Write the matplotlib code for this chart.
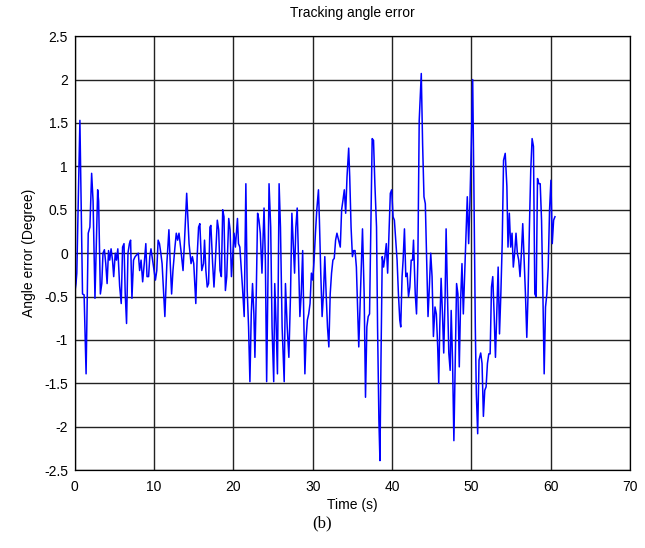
import numpy as np
import matplotlib
matplotlib.use("Agg")
import matplotlib.pyplot as plt
from matplotlib.ticker import FormatStrFormatter

plt.rcParams['font.family'] = ['Liberation Sans', 'DejaVu Sans']
plt.rcParams['axes.unicode_minus'] = False

# tracking angle error
time = [0.0, 0.15, 0.25, 0.64, 0.97, 1.17, 1.42, 1.69, 1.9, 2.12, 2.3, 2.54, 2.88, 3.0,
        3.22, 3.4, 3.55, 3.73, 3.9, 4.07, 4.25, 4.4, 4.57, 4.75, 4.9, 5.1, 5.25, 5.42,
        5.65, 5.85, 6.02, 6.2, 6.35, 6.52, 6.7, 6.88, 7.03, 7.2, 7.4, 7.6, 7.8, 8.0,
        8.17, 8.35, 8.55, 8.75, 8.95, 9.1, 9.3, 9.45, 9.6,
        10.16, 10.33, 10.5, 10.67, 10.84, 11.0, 11.35, 11.6, 11.86, 12.03, 12.2, 12.37,
        12.62, 12.79, 12.96, 13.13, 13.38, 13.64, 13.81, 14.1, 14.4, 14.65, 14.82, 14.99,
        15.25, 15.42, 15.6, 15.76, 16.0, 16.22, 16.35, 16.52, 16.69, 16.86, 17.03, 17.15,
        17.37, 17.54, 17.7, 17.96, 18.13, 18.3, 18.47, 18.64, 18.8, 18.98, 19.15, 19.4,
        19.57, 19.74, 19.9, 20.07, 20.24, 20.5,
        20.63, 20.8, 20.96, 21.13, 21.35, 21.56, 21.73, 21.9, 22.07, 22.24, 22.4, 22.57,
        22.7, 22.87, 23.04, 23.21, 23.38, 23.59, 23.85, 24.02, 24.18, 24.35, 24.48, 24.69,
        24.86, 25.07, 25.2, 25.37, 25.54, 25.75, 25.92, 26.13, 26.39, 26.55, 26.77, 26.98,
        27.19, 27.36, 27.53, 27.7, 27.86, 28.03, 28.2, 28.37, 28.54, 28.72, 28.88, 29.0,
        29.14, 29.31, 29.48, 29.65, 29.82, 29.99, 30.16, 30.33, 30.5, 30.71, 30.83, 31.0,
        31.17, 31.34, 31.51, 31.68, 31.85, 32.02, 32.19, 32.36, 32.53, 32.7, 32.87, 33.04,
        33.25, 33.46, 33.63, 33.8, 33.97, 34.14, 34.31, 34.52, 34.65, 34.82, 34.99, 35.15,
        35.32, 35.49, 35.66, 35.79, 36.0, 36.26,
        36.47, 36.64, 36.81, 36.98, 37.15, 37.32, 37.48, 37.65, 37.82, 38.03, 38.16, 38.33,
        38.46, 38.59, 38.75, 38.92, 39.09, 39.26, 39.43, 39.6, 39.77, 39.94, 40.11, 40.28,
        40.45, 40.62, 40.79, 40.96, 41.08, 41.25, 41.38, 41.55, 41.72, 41.89, 42.06, 42.23,
        42.4, 42.57, 42.69, 42.91, 43.07, 43.24, 43.41, 43.67, 43.84, 44.01, 44.18, 44.35,
        44.52, 44.69, 44.86, 45.03, 45.2,
        45.4, 45.57, 45.74, 45.87, 46.0, 46.17, 46.34, 46.5, 46.68, 46.8, 46.97, 47.14,
        47.31, 47.44, 47.61, 47.78, 47.95, 48.12, 48.29, 48.46, 48.63, 48.8, 48.97, 49.13,
        49.3, 49.47, 49.64, 49.81, 49.98, 50.15, 50.32, 50.48, 50.61, 50.78, 50.95, 51.16,
        51.33, 51.5, 51.67, 51.84, 52.01, 52.18, 52.35, 52.52, 52.68, 52.85, 53.02, 53.19,
        53.36, 53.53, 53.7, 53.87, 54.04, 54.25, 54.46,
        54.6, 54.77, 54.94, 55.11, 55.27, 55.44, 55.61, 55.78, 55.95, 56.12, 56.29, 56.46,
        56.63, 56.8, 56.97, 57.13, 57.3, 57.47, 57.64, 57.81, 57.98, 58.15, 58.32, 58.49,
        58.66, 58.83, 59.0, 59.16, 59.33, 59.5, 59.67, 59.84, 60.01, 60.18, 60.35, 60.52]

error = [-0.45, -0.35, -0.23, 1.53, -0.47, -0.48, -1.39, 0.23, 0.3, 0.92, 0.6, -0.52, 0.73, 0.6,
         -0.47, -0.35, 0.0, 0.04, -0.12, -0.35, 0.03, -0.08, 0.05, -0.08, -0.27, 0.0, -0.08, 0.05,
         -0.38, -0.58, 0.07, 0.11, -0.46, -0.81, 0.0, 0.11, 0.15, -0.52, -0.08, -0.04, -0.02, 0.0,
         -0.2, -0.08, -0.33, -0.12, 0.11, -0.27, -0.27, -0.04, 0.05,
         -0.31, -0.2, 0.15, 0.11, 0.0, -0.12, -0.73, -0.12, 0.27, -0.12, -0.47, -0.2,
         0.07, 0.23, 0.15, 0.23, 0.03, -0.2, 0.11, 0.69, 0.11, -0.12, -0.04, -0.12,
         -0.58, -0.04, 0.3, 0.34, -0.2, -0.12, 0.15, -0.2, -0.39, -0.35, 0.3, 0.32,
         -0.12, -0.39, -0.12, 0.38, 0.27, -0.2, -0.27, 0.5, 0.42, -0.43, -0.27, 0.4,
         0.27, -0.27, -0.04, 0.23, 0.07, 0.4,
         0.11, 0.07, -0.15, -0.39, -0.73, 0.8, -0.43, -0.85, -1.48, -0.7, -0.35, -0.7,
         -1.2, -0.47, 0.46, 0.38, 0.23, -0.23, 0.52, -0.08, -1.48, -0.27, 0.8, 0.3,
         -0.85, -1.48, -0.35, -0.81, -1.39, 0.8, 0.3, -0.85, -1.48, -0.35, -0.85, -1.2,
         -0.47, 0.46, 0.11, -0.23, 0.3, 0.52, -0.08, -0.73, -0.47, 0.03, -0.85, -1.39,
         -1.0, -0.77, -0.7, -0.58, -0.23, -0.31, -0.08, 0.23, 0.5, 0.73, 0.38, -0.23,
         -0.73, -0.47, -0.04, -0.47, -0.85, -1.08, -0.47, -0.23, -0.08, -0.06, 0.15, 0.23,
         0.15, 0.07, 0.5, 0.61, 0.73, 0.46, 0.88, 1.21, 0.88, 0.3, -0.04, 0.03,
         0.03, -0.16, -0.7, -1.08, -0.47, 0.28,
         -0.47, -1.66, -0.85, -0.73, -0.7, 0.3, 1.32, 1.3, 0.8, 0.3, -0.85, -1.93,
         -2.39, -1.23, -0.04, -0.16, -0.04, 0.11, -0.23, 0.23, 0.69, 0.73, 0.42, 0.38,
         0.15, -0.08, -0.47, -0.77, -0.85, -0.27, -0.08, 0.28, -0.27, -0.23, -0.5, -0.39,
         -0.08, -0.08, 0.15, -0.47, -0.7, -0.08, 1.53, 2.07, 1.25, 0.65, 0.57, -0.08,
         -0.73, -0.39, 0.0, -0.27, -0.96,
         -0.62, -0.7, -1.08, -1.5, -0.85, -0.29, -0.7, -1.15, -0.47, 0.28, -0.47, -1.15,
         -1.35, -0.66, -1.23, -2.16, -1.23, -0.35, -0.47, -1.31, -0.54, -0.12, -0.7, -0.27,
         0.15, 0.65, 0.11, 0.61, 1.27, 2.0, 0.61, -0.85, -1.62, -2.08, -1.23, -1.15,
         -1.27, -1.88, -1.58, -1.54, -1.27, -1.16, -1.16, -0.39, -0.27, -0.7, -1.2, -0.7,
         -0.16, -0.93, -0.47, 0.11, 1.07, 1.15, 0.77,
         0.07, 0.46, 0.07, 0.23, -0.16, 0.0, 0.23, 0.0, -0.08, -0.27, 0.0, 0.34,
         -0.08, -0.47, -0.97, -0.47, 0.3, 0.96, 1.32, 1.23, -0.47, -0.5, 0.86, 0.8,
         0.8, 0.38, -0.47, -1.39, -0.62, -0.47, -0.16, 0.5, 0.84, 0.11, 0.38, 0.42]

xticks = [0, 10, 20, 30, 40, 50, 60, 70]
yticks = [-2.5, -2, -1.5, -1, -0.5, 0, 0.5, 1, 1.5, 2, 2.5]

fig = plt.figure(figsize=(6.45, 5.48), dpi=100)
ax = fig.add_axes([0.116, 0.142, 0.861, 0.792])

ax.plot(time, error, color='#0000ff', linewidth=1.1)

ax.set_xlim(0, 70)
ax.set_ylim(-2.5, 2.5)
ax.set_xticks(xticks)
ax.set_yticks(yticks)
ax.yaxis.set_major_formatter(FormatStrFormatter('%g'))
ax.grid(True, color='#222222', linewidth=1.0, linestyle='-')
ax.tick_params(direction='in', length=0, labelsize=10)
ax.tick_params(axis='x', pad=7)
ax.tick_params(axis='y', pad=5)
for s in ax.spines.values():
    s.set_linewidth(0.9)

ax.set_title("Tracking angle error", fontsize=10, pad=14)
ax.set_xlabel("Time (s)", fontsize=10, labelpad=3)
ax.set_ylabel("Angle error (Degree)", fontsize=10, labelpad=6)

fig.text(0.5, 1 - 523 / 548, "(b)", ha='center', va='center',
         family='Liberation Serif', fontsize=12)

fig.savefig("out.png", dpi=100)
